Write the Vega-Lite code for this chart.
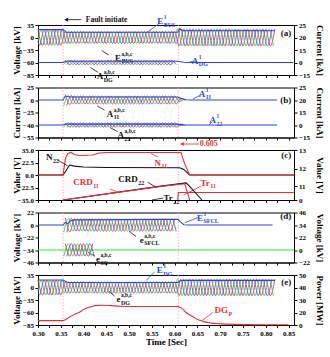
{
"$schema":"https://vega.github.io/schema/vega-lite/v6.json",
"padding":{"left":11,"top":14,"right":2,"bottom":4},
"bounds":"flush",
"spacing":12.5,
"config":{"font":"Liberation Serif","view":{"stroke":"#000","strokeWidth":1},
"axis":{"labelFont":"Liberation Serif","labelFontWeight":"bold","labelFontSize":7,"titleFont":"Liberation Serif","titleFontWeight":"bold","titleFontSize":9,"tickSize":3,"domainColor":"#000","tickColor":"#000","labelColor":"#000","titleColor":"#000","grid":false,"labelPadding":1.5},
"text":{"font":"Liberation Serif","fontWeight":"bold"}},
"datasets":{
"V":[{"t":0.355},{"t":0.608}],
"w":[
{"t":0.3,"p":"a","bus":22,"dg":21},{"t":0.31,"p":"a","bus":-22,"dg":-21},{"t":0.32,"p":"a","bus":22,"dg":21},{"t":0.33,"p":"a","bus":-22,"dg":-21},{"t":0.34,"p":"a","bus":22,"dg":21},{"t":0.35,"p":"a","bus":-22,"dg":-21},
{"t":0.36,"p":"a","bus":17,"dg":16,"sf":13,"a11":11,"a22":2.5,"adg":2.5,"sc":11},
{"t":0.37,"p":"a","bus":-17,"dg":-16,"sf":-12,"a11":-9,"a22":-2.5,"adg":-2.5,"sc":-11},
{"t":0.38,"p":"a","bus":17,"dg":16,"sf":11,"a11":8,"a22":2.5,"adg":2.5,"sc":11},
{"t":0.39,"p":"a","bus":-17,"dg":-16,"sf":-11,"a11":-8,"a22":-2.5,"adg":-2.5,"sc":-11},
{"t":0.4,"p":"a","bus":17,"dg":16,"sf":11,"a11":8,"a22":2.5,"adg":2.5,"sc":11},
{"t":0.41,"p":"a","bus":-17,"dg":-16,"sf":-11,"a11":-8,"a22":-2.5,"adg":-2.5,"sc":-11},
{"t":0.42,"p":"a","bus":17,"dg":16,"sf":11,"a11":8,"a22":2.5,"adg":2.5,"sc":11},
{"t":0.43,"p":"a","bus":-17,"dg":-16,"sf":-11,"a11":-8,"a22":-2.5,"adg":-2.5},
{"t":0.44,"p":"a","bus":17,"dg":16,"sf":11,"a11":8,"a22":2.5,"adg":2.5},
{"t":0.45,"p":"a","bus":-17,"dg":-16,"sf":-11,"a11":-8,"a22":-2.5,"adg":-2.5},
{"t":0.46,"p":"a","bus":17,"dg":16,"sf":11,"a11":8,"a22":2.5,"adg":2.5},
{"t":0.47,"p":"a","bus":-17,"dg":-16,"sf":-11,"a11":-8,"a22":-2.5,"adg":-2.5},
{"t":0.48,"p":"a","bus":17,"dg":16,"sf":11,"a11":8,"a22":2.5,"adg":2.5},
{"t":0.49,"p":"a","bus":-17,"dg":-16,"sf":-11,"a11":-8,"a22":-2.5,"adg":-2.5},
{"t":0.5,"p":"a","bus":17,"dg":16,"sf":11,"a11":8,"a22":2.5,"adg":2.5},
{"t":0.51,"p":"a","bus":-17,"dg":-16,"sf":-11,"a11":-8,"a22":-2.5,"adg":-2.5},
{"t":0.52,"p":"a","bus":17,"dg":16,"sf":11,"a11":8,"a22":2.5,"adg":2.5},
{"t":0.53,"p":"a","bus":-17,"dg":-16,"sf":-11,"a11":-8,"a22":-2.5,"adg":-2.5},
{"t":0.54,"p":"a","bus":17,"dg":16,"sf":11,"a11":8,"a22":2.5,"adg":2.5},
{"t":0.55,"p":"a","bus":-17,"dg":-16,"sf":-11,"a11":-8,"a22":-2.5,"adg":-2.5},
{"t":0.56,"p":"a","bus":17,"dg":16,"sf":11,"a11":8,"a22":2.5,"adg":2.5},
{"t":0.57,"p":"a","bus":-17,"dg":-16,"sf":-11,"a11":-8,"a22":-2.5,"adg":-2.5},
{"t":0.58,"p":"a","bus":17,"dg":16,"sf":11,"a11":8,"a22":2.5,"adg":2.5},
{"t":0.59,"p":"a","bus":-17,"dg":-16,"sf":-11,"a11":-8,"a22":-2.5,"adg":-2.5},
{"t":0.6,"p":"a","bus":17,"dg":16,"sf":11,"a11":8,"a22":2.5,"adg":2.5},
{"t":0.61,"p":"a","bus":-24,"dg":-23,"a11":-3,"a22":-1},
{"t":0.62,"p":"a","bus":24,"dg":23,"a11":1,"a22":0.3},
{"t":0.63,"p":"a","bus":-24,"dg":-23},{"t":0.64,"p":"a","bus":24,"dg":23},{"t":0.65,"p":"a","bus":-24,"dg":-23},{"t":0.66,"p":"a","bus":24,"dg":23},{"t":0.67,"p":"a","bus":-24,"dg":-23},{"t":0.68,"p":"a","bus":24,"dg":23},{"t":0.69,"p":"a","bus":-24,"dg":-23},{"t":0.7,"p":"a","bus":24,"dg":23},{"t":0.71,"p":"a","bus":-24,"dg":-23},{"t":0.72,"p":"a","bus":24,"dg":23},{"t":0.73,"p":"a","bus":-24,"dg":-23},{"t":0.74,"p":"a","bus":24,"dg":23},{"t":0.75,"p":"a","bus":-24,"dg":-23},{"t":0.76,"p":"a","bus":24,"dg":23},{"t":0.77,"p":"a","bus":-24,"dg":-23},{"t":0.78,"p":"a","bus":24,"dg":23},{"t":0.79,"p":"a","bus":-24,"dg":-23},{"t":0.8,"p":"a","bus":24,"dg":23},{"t":0.81,"p":"a","bus":-24,"dg":-23},{"t":0.82,"p":"a","bus":24,"dg":23},
{"t":0.3,"p":"b","bus":-11,"dg":-10.5},{"t":0.3067,"p":"b","bus":22,"dg":21},{"t":0.3167,"p":"b","bus":-22,"dg":-21},{"t":0.3267,"p":"b","bus":22,"dg":21},{"t":0.3367,"p":"b","bus":-22,"dg":-21},{"t":0.3467,"p":"b","bus":22,"dg":21},
{"t":0.3567,"p":"b","bus":-17,"dg":-16,"sf":-13,"a11":-11,"a22":-2.5,"adg":-2.5,"sc":-11},
{"t":0.3667,"p":"b","bus":17,"dg":16,"sf":12,"a11":9,"a22":2.5,"adg":2.5,"sc":11},
{"t":0.3767,"p":"b","bus":-17,"dg":-16,"sf":-11,"a11":-8,"a22":-2.5,"adg":-2.5,"sc":-11},
{"t":0.3867,"p":"b","bus":17,"dg":16,"sf":11,"a11":8,"a22":2.5,"adg":2.5,"sc":11},
{"t":0.3967,"p":"b","bus":-17,"dg":-16,"sf":-11,"a11":-8,"a22":-2.5,"adg":-2.5,"sc":-11},
{"t":0.4067,"p":"b","bus":17,"dg":16,"sf":11,"a11":8,"a22":2.5,"adg":2.5,"sc":11},
{"t":0.4167,"p":"b","bus":-17,"dg":-16,"sf":-11,"a11":-8,"a22":-2.5,"adg":-2.5,"sc":-11},
{"t":0.4267,"p":"b","bus":17,"dg":16,"sf":11,"a11":8,"a22":2.5,"adg":2.5},
{"t":0.4367,"p":"b","bus":-17,"dg":-16,"sf":-11,"a11":-8,"a22":-2.5,"adg":-2.5},
{"t":0.4467,"p":"b","bus":17,"dg":16,"sf":11,"a11":8,"a22":2.5,"adg":2.5},
{"t":0.4567,"p":"b","bus":-17,"dg":-16,"sf":-11,"a11":-8,"a22":-2.5,"adg":-2.5},
{"t":0.4667,"p":"b","bus":17,"dg":16,"sf":11,"a11":8,"a22":2.5,"adg":2.5},
{"t":0.4767,"p":"b","bus":-17,"dg":-16,"sf":-11,"a11":-8,"a22":-2.5,"adg":-2.5},
{"t":0.4867,"p":"b","bus":17,"dg":16,"sf":11,"a11":8,"a22":2.5,"adg":2.5},
{"t":0.4967,"p":"b","bus":-17,"dg":-16,"sf":-11,"a11":-8,"a22":-2.5,"adg":-2.5},
{"t":0.5067,"p":"b","bus":17,"dg":16,"sf":11,"a11":8,"a22":2.5,"adg":2.5},
{"t":0.5167,"p":"b","bus":-17,"dg":-16,"sf":-11,"a11":-8,"a22":-2.5,"adg":-2.5},
{"t":0.5267,"p":"b","bus":17,"dg":16,"sf":11,"a11":8,"a22":2.5,"adg":2.5},
{"t":0.5367,"p":"b","bus":-17,"dg":-16,"sf":-11,"a11":-8,"a22":-2.5,"adg":-2.5},
{"t":0.5467,"p":"b","bus":17,"dg":16,"sf":11,"a11":8,"a22":2.5,"adg":2.5},
{"t":0.5567,"p":"b","bus":-17,"dg":-16,"sf":-11,"a11":-8,"a22":-2.5,"adg":-2.5},
{"t":0.5667,"p":"b","bus":17,"dg":16,"sf":11,"a11":8,"a22":2.5,"adg":2.5},
{"t":0.5767,"p":"b","bus":-17,"dg":-16,"sf":-11,"a11":-8,"a22":-2.5,"adg":-2.5},
{"t":0.5867,"p":"b","bus":17,"dg":16,"sf":11,"a11":8,"a22":2.5,"adg":2.5},
{"t":0.5967,"p":"b","bus":-17,"dg":-16,"sf":-11,"a11":-8,"a22":-2.5,"adg":-2.5},
{"t":0.6067,"p":"b","bus":24,"dg":23,"a11":3,"a22":1},
{"t":0.6167,"p":"b","bus":-24,"dg":-23,"a11":-1,"a22":-0.3},
{"t":0.6267,"p":"b","bus":24,"dg":23},{"t":0.6367,"p":"b","bus":-24,"dg":-23},{"t":0.6467,"p":"b","bus":24,"dg":23},{"t":0.6567,"p":"b","bus":-24,"dg":-23},{"t":0.6667,"p":"b","bus":24,"dg":23},{"t":0.6767,"p":"b","bus":-24,"dg":-23},{"t":0.6867,"p":"b","bus":24,"dg":23},{"t":0.6967,"p":"b","bus":-24,"dg":-23},{"t":0.7067,"p":"b","bus":24,"dg":23},{"t":0.7167,"p":"b","bus":-24,"dg":-23},{"t":0.7267,"p":"b","bus":24,"dg":23},{"t":0.7367,"p":"b","bus":-24,"dg":-23},{"t":0.7467,"p":"b","bus":24,"dg":23},{"t":0.7567,"p":"b","bus":-24,"dg":-23},{"t":0.7667,"p":"b","bus":24,"dg":23},{"t":0.7767,"p":"b","bus":-24,"dg":-23},{"t":0.7867,"p":"b","bus":24,"dg":23},{"t":0.7967,"p":"b","bus":-24,"dg":-23},{"t":0.8067,"p":"b","bus":24,"dg":23},{"t":0.8167,"p":"b","bus":-24,"dg":-23},
{"t":0.3,"p":"c","bus":-11,"dg":-10.5},{"t":0.3033,"p":"c","bus":-22,"dg":-21},{"t":0.3133,"p":"c","bus":22,"dg":21},{"t":0.3233,"p":"c","bus":-22,"dg":-21},{"t":0.3333,"p":"c","bus":22,"dg":21},{"t":0.3433,"p":"c","bus":-22,"dg":-21},{"t":0.3533,"p":"c","bus":22,"dg":21},
{"t":0.3633,"p":"c","bus":-17,"dg":-16,"sf":-13,"a11":-11,"a22":-2.5,"adg":-2.5,"sc":-11},
{"t":0.3733,"p":"c","bus":17,"dg":16,"sf":12,"a11":9,"a22":2.5,"adg":2.5,"sc":11},
{"t":0.3833,"p":"c","bus":-17,"dg":-16,"sf":-11,"a11":-8,"a22":-2.5,"adg":-2.5,"sc":-11},
{"t":0.3933,"p":"c","bus":17,"dg":16,"sf":11,"a11":8,"a22":2.5,"adg":2.5,"sc":11},
{"t":0.4033,"p":"c","bus":-17,"dg":-16,"sf":-11,"a11":-8,"a22":-2.5,"adg":-2.5,"sc":-11},
{"t":0.4133,"p":"c","bus":17,"dg":16,"sf":11,"a11":8,"a22":2.5,"adg":2.5,"sc":11},
{"t":0.4233,"p":"c","bus":-17,"dg":-16,"sf":-11,"a11":-8,"a22":-2.5,"adg":-2.5,"sc":-11},
{"t":0.4333,"p":"c","bus":17,"dg":16,"sf":11,"a11":8,"a22":2.5,"adg":2.5},
{"t":0.4433,"p":"c","bus":-17,"dg":-16,"sf":-11,"a11":-8,"a22":-2.5,"adg":-2.5},
{"t":0.4533,"p":"c","bus":17,"dg":16,"sf":11,"a11":8,"a22":2.5,"adg":2.5},
{"t":0.4633,"p":"c","bus":-17,"dg":-16,"sf":-11,"a11":-8,"a22":-2.5,"adg":-2.5},
{"t":0.4733,"p":"c","bus":17,"dg":16,"sf":11,"a11":8,"a22":2.5,"adg":2.5},
{"t":0.4833,"p":"c","bus":-17,"dg":-16,"sf":-11,"a11":-8,"a22":-2.5,"adg":-2.5},
{"t":0.4933,"p":"c","bus":17,"dg":16,"sf":11,"a11":8,"a22":2.5,"adg":2.5},
{"t":0.5033,"p":"c","bus":-17,"dg":-16,"sf":-11,"a11":-8,"a22":-2.5,"adg":-2.5},
{"t":0.5133,"p":"c","bus":17,"dg":16,"sf":11,"a11":8,"a22":2.5,"adg":2.5},
{"t":0.5233,"p":"c","bus":-17,"dg":-16,"sf":-11,"a11":-8,"a22":-2.5,"adg":-2.5},
{"t":0.5333,"p":"c","bus":17,"dg":16,"sf":11,"a11":8,"a22":2.5,"adg":2.5},
{"t":0.5433,"p":"c","bus":-17,"dg":-16,"sf":-11,"a11":-8,"a22":-2.5,"adg":-2.5},
{"t":0.5533,"p":"c","bus":17,"dg":16,"sf":11,"a11":8,"a22":2.5,"adg":2.5},
{"t":0.5633,"p":"c","bus":-17,"dg":-16,"sf":-11,"a11":-8,"a22":-2.5,"adg":-2.5},
{"t":0.5733,"p":"c","bus":17,"dg":16,"sf":11,"a11":8,"a22":2.5,"adg":2.5},
{"t":0.5833,"p":"c","bus":-17,"dg":-16,"sf":-11,"a11":-8,"a22":-2.5,"adg":-2.5},
{"t":0.5933,"p":"c","bus":17,"dg":16,"sf":11,"a11":8,"a22":2.5,"adg":2.5},
{"t":0.6033,"p":"c","bus":-17,"dg":-16,"sf":-11,"a11":-8,"a22":-2.5,"adg":-2.5},
{"t":0.6133,"p":"c","bus":24,"dg":23,"a11":3,"a22":1},
{"t":0.6233,"p":"c","bus":-24,"dg":-23,"a11":-1,"a22":-0.3},
{"t":0.6333,"p":"c","bus":24,"dg":23},{"t":0.6433,"p":"c","bus":-24,"dg":-23},{"t":0.6533,"p":"c","bus":24,"dg":23},{"t":0.6633,"p":"c","bus":-24,"dg":-23},{"t":0.6733,"p":"c","bus":24,"dg":23},{"t":0.6833,"p":"c","bus":-24,"dg":-23},{"t":0.6933,"p":"c","bus":24,"dg":23},{"t":0.7033,"p":"c","bus":-24,"dg":-23},{"t":0.7133,"p":"c","bus":24,"dg":23},{"t":0.7233,"p":"c","bus":-24,"dg":-23},{"t":0.7333,"p":"c","bus":24,"dg":23},{"t":0.7433,"p":"c","bus":-24,"dg":-23},{"t":0.7533,"p":"c","bus":24,"dg":23},{"t":0.7633,"p":"c","bus":-24,"dg":-23},{"t":0.7733,"p":"c","bus":24,"dg":23},{"t":0.7833,"p":"c","bus":-24,"dg":-23},{"t":0.7933,"p":"c","bus":24,"dg":23},{"t":0.8033,"p":"c","bus":-24,"dg":-23},{"t":0.8133,"p":"c","bus":24,"dg":23}
],
"L":[
{"s":"E1BUS","g":"blue","t":0.3,"v":22},{"s":"E1BUS","g":"blue","t":0.355,"v":22},{"s":"E1BUS","g":"blue","t":0.362,"v":15},{"s":"E1BUS","g":"blue","t":0.607,"v":14.5},{"s":"E1BUS","g":"blue","t":0.611,"v":25},{"s":"E1BUS","g":"blue","t":0.618,"v":19},{"s":"E1BUS","g":"blue","t":0.82,"v":19},
{"s":"A1DG","g":"blue","t":0.3,"v":0},{"s":"A1DG","g":"blue","t":0.355,"v":0},{"s":"A1DG","g":"blue","t":0.36,"v":1.5},{"s":"A1DG","g":"blue","t":0.607,"v":1.5},{"s":"A1DG","g":"blue","t":0.62,"v":0.3},{"s":"A1DG","g":"blue","t":0.63,"v":0},{"s":"A1DG","g":"blue","t":0.86,"v":0},
{"s":"A111","g":"blue","t":0.3,"v":0},{"s":"A111","g":"blue","t":0.355,"v":0},{"s":"A111","g":"blue","t":0.36,"v":8},{"s":"A111","g":"blue","t":0.37,"v":6},{"s":"A111","g":"blue","t":0.607,"v":6},{"s":"A111","g":"blue","t":0.615,"v":3},{"s":"A111","g":"blue","t":0.625,"v":0.5},{"s":"A111","g":"blue","t":0.635,"v":0},{"s":"A111","g":"blue","t":0.825,"v":0},
{"s":"A122","g":"blue","t":0.3,"v":0},{"s":"A122","g":"blue","t":0.355,"v":0},{"s":"A122","g":"blue","t":0.36,"v":1},{"s":"A122","g":"blue","t":0.607,"v":1},{"s":"A122","g":"blue","t":0.62,"v":0},{"s":"A122","g":"blue","t":0.825,"v":0},
{"s":"N22","g":"black","t":0.3,"v":0},{"s":"N22","g":"black","t":0.355,"v":0},{"s":"N22","g":"black","t":0.362,"v":8},{"s":"N22","g":"black","t":0.369,"v":18},{"s":"N22","g":"black","t":0.38,"v":16},{"s":"N22","g":"black","t":0.4,"v":14.5},{"s":"N22","g":"black","t":0.45,"v":13.5},{"s":"N22","g":"black","t":0.611,"v":13},{"s":"N22","g":"black","t":0.62,"v":10},{"s":"N22","g":"black","t":0.633,"v":0},{"s":"N22","g":"black","t":0.862,"v":0},
{"s":"N11","g":"red","t":0.3,"v":0},{"s":"N11","g":"red","t":0.355,"v":0},{"s":"N11","g":"red","t":0.36,"v":26},{"s":"N11","g":"red","t":0.365,"v":31},{"s":"N11","g":"red","t":0.372,"v":32.8},{"s":"N11","g":"red","t":0.38,"v":30.5},{"s":"N11","g":"red","t":0.39,"v":29.5},{"s":"N11","g":"red","t":0.42,"v":30},{"s":"N11","g":"red","t":0.435,"v":32},{"s":"N11","g":"red","t":0.45,"v":32.5},{"s":"N11","g":"red","t":0.614,"v":32.5},{"s":"N11","g":"red","t":0.622,"v":20},{"s":"N11","g":"red","t":0.633,"v":0},{"s":"N11","g":"red","t":0.862,"v":0},
{"s":"Tr11","g":"red","t":0.607,"v":-35},{"s":"Tr11","g":"red","t":0.608,"v":-27.5},{"s":"Tr11","g":"red","t":0.862,"v":-27.5},
{"s":"CRD22","g":"black","t":0.355,"v":0},{"s":"CRD22","g":"black","t":0.566,"v":11},{"s":"CRD22","g":"black","t":0.625,"v":11.2},{"s":"CRD22","g":"black","t":0.633,"v":11},{"s":"CRD22","g":"black","t":0.66,"v":0},
{"s":"CRD11","g":"red","t":0.355,"v":0},{"s":"CRD11","g":"red","t":0.57,"v":11},{"s":"CRD11","g":"red","t":0.622,"v":11.15},{"s":"CRD11","g":"red","t":0.624,"v":11},{"s":"CRD11","g":"red","t":0.633,"v":0},
{"s":"E1SFCL","g":"blue","t":0.3,"v":0},{"s":"E1SFCL","g":"blue","t":0.355,"v":0},{"s":"E1SFCL","g":"blue","t":0.36,"v":5},{"s":"E1SFCL","g":"blue","t":0.365,"v":2},{"s":"E1SFCL","g":"blue","t":0.37,"v":7},{"s":"E1SFCL","g":"blue","t":0.38,"v":9},{"s":"E1SFCL","g":"blue","t":0.607,"v":10},{"s":"E1SFCL","g":"blue","t":0.612,"v":6},{"s":"E1SFCL","g":"blue","t":0.62,"v":0.5},{"s":"E1SFCL","g":"blue","t":0.63,"v":0},{"s":"E1SFCL","g":"blue","t":0.815,"v":0},
{"s":"eSC0","g":"green","t":0.3,"v":0},{"s":"eSC0","g":"green","t":0.862,"v":0},
{"s":"E1DG","g":"blue","t":0.3,"v":21},{"s":"E1DG","g":"blue","t":0.355,"v":21},{"s":"E1DG","g":"blue","t":0.365,"v":14},{"s":"E1DG","g":"blue","t":0.607,"v":14},{"s":"E1DG","g":"blue","t":0.615,"v":20},{"s":"E1DG","g":"blue","t":0.82,"v":20},
{"s":"DGP","g":"red","t":0.3,"v":7},{"s":"DGP","g":"red","t":0.355,"v":7},{"s":"DGP","g":"red","t":0.36,"v":8.5},{"s":"DGP","g":"red","t":0.37,"v":13},{"s":"DGP","g":"red","t":0.38,"v":17},{"s":"DGP","g":"red","t":0.39,"v":20},{"s":"DGP","g":"red","t":0.4,"v":22.5},{"s":"DGP","g":"red","t":0.41,"v":24},{"s":"DGP","g":"red","t":0.42,"v":25},{"s":"DGP","g":"red","t":0.43,"v":25.7},{"s":"DGP","g":"red","t":0.44,"v":25.8},{"s":"DGP","g":"red","t":0.46,"v":25.5},{"s":"DGP","g":"red","t":0.48,"v":25},{"s":"DGP","g":"red","t":0.5,"v":24.8},{"s":"DGP","g":"red","t":0.6,"v":24.8},{"s":"DGP","g":"red","t":0.607,"v":24.7},{"s":"DGP","g":"red","t":0.615,"v":23.5},{"s":"DGP","g":"red","t":0.625,"v":20},{"s":"DGP","g":"red","t":0.635,"v":15.5},{"s":"DGP","g":"red","t":0.645,"v":11},{"s":"DGP","g":"red","t":0.655,"v":7.5},{"s":"DGP","g":"red","t":0.665,"v":5},{"s":"DGP","g":"red","t":0.68,"v":3},{"s":"DGP","g":"red","t":0.7,"v":1.8},{"s":"DGP","g":"red","t":0.73,"v":1},{"s":"DGP","g":"red","t":0.8,"v":0.5},{"s":"DGP","g":"red","t":0.85,"v":0.4}
],
"T":[
{"pn":"a","t":0.575,"v":46,"m":"E","sp":"1","sb":"BUS","g":"blue"},
{"pn":"a","t":0.482,"v":-50,"m":"E","sp":"a,b,c","sb":"BUS","g":"black"},
{"pn":"a","t":0.652,"v":-56,"m":"A","sp":"1","sb":"DG","g":"blue"},
{"pn":"a","t":0.443,"v":-87,"m":"A","sp":"a,b,c","sb":"DG","g":"black"},
{"pn":"a","t":0.856,"v":14,"m":"(a)","sp":"","sb":"","g":"black"},
{"pn":"b","t":0.667,"v":13,"m":"A","sp":"1","sb":"11","g":"blue"},
{"pn":"b","t":0.465,"v":-26.5,"m":"A","sp":"a,b,c","sb":"11","g":"black"},
{"pn":"b","t":0.691,"v":-34.5,"m":"A","sp":"1","sb":"22","g":"blue"},
{"pn":"b","t":0.489,"v":-52,"m":"A","sp":"a,b,c","sb":"22","g":"black"},
{"pn":"b","t":0.856,"v":0,"m":"(b)","sp":"","sb":"","g":"black"},
{"pn":"c","t":0.332,"v":28,"m":"N","sp":"","sb":"22","g":"black"},
{"pn":"c","t":0.57,"v":22,"m":"N","sp":"","sb":"11","g":"red"},
{"pn":"c","t":0.42,"v":-13,"m":"CRD","sp":"","sb":"11","g":"red"},
{"pn":"c","t":0.519,"v":-8,"m":"CRD","sp":"","sb":"22","g":"black"},
{"pn":"c","t":0.677,"v":-14,"m":"Tr","sp":"","sb":"11","g":"red"},
{"pn":"c","t":0.596,"v":-33,"m":"Tr","sp":"","sb":"22","g":"black"},
{"pn":"c","t":0.856,"v":30,"m":"(c)","sp":"","sb":"","g":"black"},
{"pn":"d","t":0.662,"v":13,"m":"E","sp":"1","sb":"SFCL","g":"blue"},
{"pn":"d","t":0.532,"v":-24,"m":"e","sp":"a,b,c","sb":"SFCL","g":"black"},
{"pn":"d","t":0.436,"v":-43,"m":"e","sp":"a,b,c","sb":"SC","g":"black"},
{"pn":"d","t":0.856,"v":15,"m":"(d)","sp":"","sb":"","g":"black"},
{"pn":"e","t":0.574,"v":49,"m":"E","sp":"1","sb":"DG","g":"blue"},
{"pn":"e","t":0.481,"v":-33,"m":"e","sp":"a,b,c","sb":"DG","g":"black"},
{"pn":"e","t":0.717,"v":-55,"m":"DG","sp":"","sb":"P","g":"red"},
{"pn":"e","t":0.856,"v":16,"m":"(e)","sp":"","sb":"","g":"black"}
],
"R":[
{"pn":"a","t":0.565,"v":38,"t2":0.54,"v2":15,"g":"blue"},
{"pn":"a","t":0.455,"v":-45,"t2":0.44,"v2":-36,"g":"black"},
{"pn":"a","t":0.642,"v":-57,"t2":0.63,"v2":-60,"g":"blue"},
{"pn":"a","t":0.432,"v":-80,"t2":0.415,"v2":-70,"g":"black"},
{"pn":"a","t":0.362,"v":50,"t2":0.395,"v2":50,"g":"black"},
{"pn":"b","t":0.657,"v":10,"t2":0.64,"v2":2,"g":"blue"},
{"pn":"b","t":0.446,"v":-20,"t2":0.43,"v2":-12,"g":"black"},
{"pn":"b","t":0.683,"v":-36,"t2":0.675,"v2":-40,"g":"blue"},
{"pn":"b","t":0.475,"v":-48,"t2":0.458,"v2":-43,"g":"black"},
{"pn":"c","t":0.343,"v":25,"t2":0.365,"v2":16.6,"g":"black"},
{"pn":"c","t":0.563,"v":28,"t2":0.548,"v2":31.6,"g":"red"},
{"pn":"c","t":0.458,"v":-24,"t2":0.475,"v2":-27,"g":"red"},
{"pn":"c","t":0.541,"v":-13,"t2":0.558,"v2":-21.5,"g":"black"},
{"pn":"c","t":0.658,"v":-20,"t2":0.62,"v2":-30,"g":"red"},
{"pn":"c","t":0.575,"v":-33,"t2":0.55,"v2":-35,"g":"black"},
{"pn":"c","t":0.617,"v":41,"t2":0.653,"v2":41,"g":"red"},
{"pn":"d","t":0.651,"v":13,"t2":0.622,"v2":4,"g":"blue"},
{"pn":"d","t":0.515,"v":-20,"t2":0.5,"v2":-11,"g":"black"},
{"pn":"d","t":0.425,"v":-40,"t2":0.41,"v2":-36,"g":"black"},
{"pn":"e","t":0.556,"v":44,"t2":0.537,"v2":19,"g":"blue"},
{"pn":"e","t":0.468,"v":-24,"t2":0.455,"v2":-10,"g":"black"},
{"pn":"e","t":0.684,"v":-60,"t2":0.66,"v2":-76,"g":"red"}
],
"N":[{"pn":"a","t":0.405,"v":50,"m":"Fault initiate","g":"black"},{"pn":"c","t":0.655,"v":41,"m":"0.605","g":"red"}],
"H":[{"pn":"a","t":0.362,"v":50,"g":"black"},{"pn":"c","t":0.616,"v":41,"g":"red"}]
},
"vconcat":[
{"width":256,"height":50,
"encoding":{"x":{"field":"t","type":"quantitative","scale":{"domain":[0.3,0.862],"nice":false,"zero":false},"axis":{"values":[0.3,0.325,0.35,0.375,0.4,0.425,0.45,0.475,0.5,0.525,0.55,0.575,0.6,0.625,0.65,0.675,0.7,0.725,0.75,0.775,0.8,0.825,0.85],"labels":false,"title":null,"tickSize":2.5}}},
"layer":[
{"data":{"name":"V"},"mark":{"type":"rule","color":"#f2a0a0","strokeDash":[1.5,1.5],"strokeWidth":0.8}},
{"encoding":{"y":{"field":"v","type":"quantitative","scale":{"domain":[-85,-60,-35,0,35],"range":[50,37.5,25,12.5,0],"nice":false,"zero":false},"axis":{"values":[35,0,-35,-60,-85],"title":"Voltage [kV]","titleX":-17,"titleY":25,"titleAngle":270,"titleBaseline":"bottom","titleAlign":"center"}}},
"layer":[
{"data":{"name":"w"},"transform":[{"fold":["bus"],"as":["q","v"]},{"filter":"isValid(datum.v)"}],"mark":{"type":"line","interpolate":"monotone","strokeWidth":0.9},"encoding":{"color":{"field":"p","type":"nominal","scale":{"domain":["a","b","c","blue","red","black","green"],"range":["#e8353a","#3fcf3f","#5a5ae8","#2f45d8","#e3303a","#111111","#3ee03e"]},"legend":null}}},
{"data":{"name":"L"},"transform":[{"filter":{"field":"s","oneOf":["E1BUS"]}}],"mark":{"type":"line","strokeWidth":1.1},"encoding":{"detail":{"field":"s"},"color":{"field":"g","type":"nominal","scale":{"domain":["a","b","c","blue","red","black","green"],"range":["#e8353a","#3fcf3f","#5a5ae8","#2f45d8","#e3303a","#111111","#3ee03e"]},"legend":null}}},
{"data":{"name":"R"},"transform":[{"filter":"datum.pn==='a'"}],"mark":{"type":"rule","strokeWidth":0.8},"encoding":{"x2":{"field":"t2"},"y2":{"field":"v2"},"color":{"field":"g","type":"nominal","scale":{"domain":["a","b","c","blue","red","black","green"],"range":["#e8353a","#3fcf3f","#5a5ae8","#2f45d8","#e3303a","#111111","#3ee03e"]},"legend":null}}},
{"data":{"name":"H"},"transform":[{"filter":"datum.pn==='a'"}],"mark":{"type":"point","shape":"triangle-left","filled":true,"size":18,"opacity":1},"encoding":{"color":{"field":"g","type":"nominal","scale":{"domain":["a","b","c","blue","red","black","green"],"range":["#e8353a","#3fcf3f","#5a5ae8","#2f45d8","#e3303a","#111111","#3ee03e"]},"legend":null}}},
{"data":{"name":"N"},"transform":[{"filter":"datum.pn==='a'"}],"mark":{"type":"text","align":"left","baseline":"middle","fontSize":7.5},"encoding":{"text":{"field":"m"},"color":{"field":"g","type":"nominal","scale":{"domain":["a","b","c","blue","red","black","green"],"range":["#e8353a","#3fcf3f","#5a5ae8","#2f45d8","#e3303a","#111111","#3ee03e"]},"legend":null}}},
{"data":{"name":"T"},"transform":[{"filter":"datum.pn==='a'"}],"mark":{"type":"text","align":"right","baseline":"middle","fontSize":9},"encoding":{"text":{"field":"m"},"color":{"field":"g","type":"nominal","scale":{"domain":["a","b","c","blue","red","black","green"],"range":["#e8353a","#3fcf3f","#5a5ae8","#2f45d8","#e3303a","#111111","#3ee03e"]},"legend":null}}},
{"data":{"name":"T"},"transform":[{"filter":"datum.pn==='a'"}],"mark":{"type":"text","align":"left","baseline":"middle","fontSize":5.5,"dy":-4,"dx":0.5},"encoding":{"text":{"field":"sp"},"color":{"field":"g","type":"nominal","scale":{"domain":["a","b","c","blue","red","black","green"],"range":["#e8353a","#3fcf3f","#5a5ae8","#2f45d8","#e3303a","#111111","#3ee03e"]},"legend":null}}},
{"data":{"name":"T"},"transform":[{"filter":"datum.pn==='a'"}],"mark":{"type":"text","align":"left","baseline":"middle","fontSize":6,"dy":3.5,"dx":0.5},"encoding":{"text":{"field":"sb"},"color":{"field":"g","type":"nominal","scale":{"domain":["a","b","c","blue","red","black","green"],"range":["#e8353a","#3fcf3f","#5a5ae8","#2f45d8","#e3303a","#111111","#3ee03e"]},"legend":null}}}
]},
{"encoding":{"y":{"field":"v","type":"quantitative","scale":{"domain":[-15,0,15,20,25],"range":[50,37.5,25,12.5,0],"nice":false,"zero":false},"axis":{"orient":"right","values":[25,20,15,0,-15],"title":"Current [kA]","titleX":20,"titleY":25,"titleAngle":90,"titleBaseline":"bottom","titleAlign":"center"}}},
"layer":[
{"data":{"name":"w"},"transform":[{"fold":["adg"],"as":["q","v"]},{"filter":"isValid(datum.v)"}],"mark":{"type":"line","interpolate":"monotone","strokeWidth":0.9},"encoding":{"color":{"field":"p","type":"nominal","scale":{"domain":["a","b","c","blue","red","black","green"],"range":["#e8353a","#3fcf3f","#5a5ae8","#2f45d8","#e3303a","#111111","#3ee03e"]},"legend":null}}},
{"data":{"name":"L"},"transform":[{"filter":{"field":"s","oneOf":["A1DG"]}}],"mark":{"type":"line","strokeWidth":1.1},"encoding":{"detail":{"field":"s"},"color":{"field":"g","type":"nominal","scale":{"domain":["a","b","c","blue","red","black","green"],"range":["#e8353a","#3fcf3f","#5a5ae8","#2f45d8","#e3303a","#111111","#3ee03e"]},"legend":null}}}
]}
],
"resolve":{"scale":{"y":"independent"}}},

{"width":256,"height":50,
"encoding":{"x":{"field":"t","type":"quantitative","scale":{"domain":[0.3,0.862],"nice":false,"zero":false},"axis":{"values":[0.3,0.325,0.35,0.375,0.4,0.425,0.45,0.475,0.5,0.525,0.55,0.575,0.6,0.625,0.65,0.675,0.7,0.725,0.75,0.775,0.8,0.825,0.85],"labels":false,"title":null,"tickSize":2.5}}},
"layer":[
{"data":{"name":"V"},"mark":{"type":"rule","color":"#f2a0a0","strokeDash":[1.5,1.5],"strokeWidth":0.8}},
{"encoding":{"y":{"field":"v","type":"quantitative","scale":{"domain":[-55,-40,-25,0,25],"range":[50,37.5,25,12.5,0],"nice":false,"zero":false},"axis":{"values":[25,0,-25,-40,-55],"title":"Current [kA]","titleX":-17,"titleY":25,"titleAngle":270,"titleBaseline":"bottom","titleAlign":"center"}}},
"layer":[
{"data":{"name":"w"},"transform":[{"fold":["a11"],"as":["q","v"]},{"filter":"isValid(datum.v)"}],"mark":{"type":"line","interpolate":"monotone","strokeWidth":0.9},"encoding":{"color":{"field":"p","type":"nominal","scale":{"domain":["a","b","c","blue","red","black","green"],"range":["#e8353a","#3fcf3f","#5a5ae8","#2f45d8","#e3303a","#111111","#3ee03e"]},"legend":null}}},
{"data":{"name":"L"},"transform":[{"filter":{"field":"s","oneOf":["A111"]}}],"mark":{"type":"line","strokeWidth":1.1},"encoding":{"detail":{"field":"s"},"color":{"field":"g","type":"nominal","scale":{"domain":["a","b","c","blue","red","black","green"],"range":["#e8353a","#3fcf3f","#5a5ae8","#2f45d8","#e3303a","#111111","#3ee03e"]},"legend":null}}},
{"data":{"name":"R"},"transform":[{"filter":"datum.pn==='b'"}],"mark":{"type":"rule","strokeWidth":0.8},"encoding":{"x2":{"field":"t2"},"y2":{"field":"v2"},"color":{"field":"g","type":"nominal","scale":{"domain":["a","b","c","blue","red","black","green"],"range":["#e8353a","#3fcf3f","#5a5ae8","#2f45d8","#e3303a","#111111","#3ee03e"]},"legend":null}}},
{"data":{"name":"T"},"transform":[{"filter":"datum.pn==='b'"}],"mark":{"type":"text","align":"right","baseline":"middle","fontSize":9},"encoding":{"text":{"field":"m"},"color":{"field":"g","type":"nominal","scale":{"domain":["a","b","c","blue","red","black","green"],"range":["#e8353a","#3fcf3f","#5a5ae8","#2f45d8","#e3303a","#111111","#3ee03e"]},"legend":null}}},
{"data":{"name":"T"},"transform":[{"filter":"datum.pn==='b'"}],"mark":{"type":"text","align":"left","baseline":"middle","fontSize":5.5,"dy":-4,"dx":0.5},"encoding":{"text":{"field":"sp"},"color":{"field":"g","type":"nominal","scale":{"domain":["a","b","c","blue","red","black","green"],"range":["#e8353a","#3fcf3f","#5a5ae8","#2f45d8","#e3303a","#111111","#3ee03e"]},"legend":null}}},
{"data":{"name":"T"},"transform":[{"filter":"datum.pn==='b'"}],"mark":{"type":"text","align":"left","baseline":"middle","fontSize":6,"dy":3.5,"dx":0.5},"encoding":{"text":{"field":"sb"},"color":{"field":"g","type":"nominal","scale":{"domain":["a","b","c","blue","red","black","green"],"range":["#e8353a","#3fcf3f","#5a5ae8","#2f45d8","#e3303a","#111111","#3ee03e"]},"legend":null}}}
]},
{"encoding":{"y":{"field":"v","type":"quantitative","scale":{"domain":[-15,0,15,20,25],"range":[50,37.5,25,12.5,0],"nice":false,"zero":false},"axis":{"orient":"right","values":[25,20,15,0,-15],"title":"Current [kA]","titleX":20,"titleY":25,"titleAngle":90,"titleBaseline":"bottom","titleAlign":"center"}}},
"layer":[
{"data":{"name":"w"},"transform":[{"fold":["a22"],"as":["q","v"]},{"filter":"isValid(datum.v)"}],"mark":{"type":"line","interpolate":"monotone","strokeWidth":0.9},"encoding":{"color":{"field":"p","type":"nominal","scale":{"domain":["a","b","c","blue","red","black","green"],"range":["#e8353a","#3fcf3f","#5a5ae8","#2f45d8","#e3303a","#111111","#3ee03e"]},"legend":null}}},
{"data":{"name":"L"},"transform":[{"filter":{"field":"s","oneOf":["A122"]}}],"mark":{"type":"line","strokeWidth":1.1},"encoding":{"detail":{"field":"s"},"color":{"field":"g","type":"nominal","scale":{"domain":["a","b","c","blue","red","black","green"],"range":["#e8353a","#3fcf3f","#5a5ae8","#2f45d8","#e3303a","#111111","#3ee03e"]},"legend":null}}}
]}
],
"resolve":{"scale":{"y":"independent"}}},

{"width":256,"height":50,
"encoding":{"x":{"field":"t","type":"quantitative","scale":{"domain":[0.3,0.862],"nice":false,"zero":false},"axis":{"values":[0.3,0.325,0.35,0.375,0.4,0.425,0.45,0.475,0.5,0.525,0.55,0.575,0.6,0.625,0.65,0.675,0.7,0.725,0.75,0.775,0.8,0.825,0.85],"labels":false,"title":null,"tickSize":2.5}}},
"layer":[
{"data":{"name":"V"},"mark":{"type":"rule","color":"#f2a0a0","strokeDash":[1.5,1.5],"strokeWidth":0.8}},
{"encoding":{"y":{"field":"v","type":"quantitative","scale":{"domain":[-35,-22.5,0,22.5,35],"range":[50,37.5,25,12.5,0],"nice":false,"zero":false},"axis":{"values":[35,22.5,0,-22.5,-35],"format":".1f","title":"Value [V]","titleX":-17,"titleY":25,"titleAngle":270,"titleBaseline":"bottom","titleAlign":"center"}}},
"layer":[
{"data":{"name":"L"},"transform":[{"filter":{"field":"s","oneOf":["N22","N11","Tr11"]}}],"mark":{"type":"line","strokeWidth":1.1},"encoding":{"detail":{"field":"s"},"color":{"field":"g","type":"nominal","scale":{"domain":["a","b","c","blue","red","black","green"],"range":["#e8353a","#3fcf3f","#5a5ae8","#2f45d8","#e3303a","#111111","#3ee03e"]},"legend":null}}},
{"data":{"name":"R"},"transform":[{"filter":"datum.pn==='c'"}],"mark":{"type":"rule","strokeWidth":0.8},"encoding":{"x2":{"field":"t2"},"y2":{"field":"v2"},"color":{"field":"g","type":"nominal","scale":{"domain":["a","b","c","blue","red","black","green"],"range":["#e8353a","#3fcf3f","#5a5ae8","#2f45d8","#e3303a","#111111","#3ee03e"]},"legend":null}}},
{"data":{"name":"H"},"transform":[{"filter":"datum.pn==='c'"}],"mark":{"type":"point","shape":"triangle-left","filled":true,"size":18,"opacity":1},"encoding":{"color":{"field":"g","type":"nominal","scale":{"domain":["a","b","c","blue","red","black","green"],"range":["#e8353a","#3fcf3f","#5a5ae8","#2f45d8","#e3303a","#111111","#3ee03e"]},"legend":null}}},
{"data":{"name":"N"},"transform":[{"filter":"datum.pn==='c'"}],"mark":{"type":"text","align":"left","baseline":"middle","fontSize":8},"encoding":{"text":{"field":"m"},"color":{"field":"g","type":"nominal","scale":{"domain":["a","b","c","blue","red","black","green"],"range":["#e8353a","#3fcf3f","#5a5ae8","#2f45d8","#e3303a","#111111","#3ee03e"]},"legend":null}}},
{"data":{"name":"T"},"transform":[{"filter":"datum.pn==='c'"}],"mark":{"type":"text","align":"right","baseline":"middle","fontSize":9},"encoding":{"text":{"field":"m"},"color":{"field":"g","type":"nominal","scale":{"domain":["a","b","c","blue","red","black","green"],"range":["#e8353a","#3fcf3f","#5a5ae8","#2f45d8","#e3303a","#111111","#3ee03e"]},"legend":null}}},
{"data":{"name":"T"},"transform":[{"filter":"datum.pn==='c'"}],"mark":{"type":"text","align":"left","baseline":"middle","fontSize":6,"dy":3.5,"dx":0.5},"encoding":{"text":{"field":"sb"},"color":{"field":"g","type":"nominal","scale":{"domain":["a","b","c","blue","red","black","green"],"range":["#e8353a","#3fcf3f","#5a5ae8","#2f45d8","#e3303a","#111111","#3ee03e"]},"legend":null}}}
]},
{"encoding":{"y":{"field":"v","type":"quantitative","scale":{"domain":[0,11,12,13],"range":[50,36.4,18.7,0],"nice":false,"zero":false},"axis":{"orient":"right","values":[13,12,11,0],"title":"Value [V]","titleX":20,"titleY":25,"titleAngle":90,"titleBaseline":"bottom","titleAlign":"center"}}},
"layer":[
{"data":{"name":"L"},"transform":[{"filter":{"field":"s","oneOf":["CRD22","CRD11"]}}],"mark":{"type":"line","strokeWidth":1.1},"encoding":{"detail":{"field":"s"},"color":{"field":"g","type":"nominal","scale":{"domain":["a","b","c","blue","red","black","green"],"range":["#e8353a","#3fcf3f","#5a5ae8","#2f45d8","#e3303a","#111111","#3ee03e"]},"legend":null}}}
]}
],
"resolve":{"scale":{"y":"independent"}}},

{"width":256,"height":50,
"encoding":{"x":{"field":"t","type":"quantitative","scale":{"domain":[0.3,0.862],"nice":false,"zero":false},"axis":{"values":[0.3,0.325,0.35,0.375,0.4,0.425,0.45,0.475,0.5,0.525,0.55,0.575,0.6,0.625,0.65,0.675,0.7,0.725,0.75,0.775,0.8,0.825,0.85],"labels":false,"title":null,"tickSize":2.5}}},
"layer":[
{"data":{"name":"V"},"mark":{"type":"rule","color":"#f2a0a0","strokeDash":[1.5,1.5],"strokeWidth":0.8}},
{"encoding":{"y":{"field":"v","type":"quantitative","scale":{"domain":[-46,-34,-22,0,22],"range":[50,37.5,25,12.5,0],"nice":false,"zero":false},"axis":{"values":[22,0,-22,-34,-46],"title":"Voltage [kV]","titleX":-17,"titleY":25,"titleAngle":270,"titleBaseline":"bottom","titleAlign":"center"}}},
"layer":[
{"data":{"name":"w"},"transform":[{"fold":["sf"],"as":["q","v"]},{"filter":"isValid(datum.v)"}],"mark":{"type":"line","interpolate":"monotone","strokeWidth":0.9},"encoding":{"color":{"field":"p","type":"nominal","scale":{"domain":["a","b","c","blue","red","black","green"],"range":["#e8353a","#3fcf3f","#5a5ae8","#2f45d8","#e3303a","#111111","#3ee03e"]},"legend":null}}},
{"data":{"name":"L"},"transform":[{"filter":{"field":"s","oneOf":["E1SFCL"]}}],"mark":{"type":"line","strokeWidth":1.1},"encoding":{"detail":{"field":"s"},"color":{"field":"g","type":"nominal","scale":{"domain":["a","b","c","blue","red","black","green"],"range":["#e8353a","#3fcf3f","#5a5ae8","#2f45d8","#e3303a","#111111","#3ee03e"]},"legend":null}}},
{"data":{"name":"R"},"transform":[{"filter":"datum.pn==='d'"}],"mark":{"type":"rule","strokeWidth":0.8},"encoding":{"x2":{"field":"t2"},"y2":{"field":"v2"},"color":{"field":"g","type":"nominal","scale":{"domain":["a","b","c","blue","red","black","green"],"range":["#e8353a","#3fcf3f","#5a5ae8","#2f45d8","#e3303a","#111111","#3ee03e"]},"legend":null}}},
{"data":{"name":"T"},"transform":[{"filter":"datum.pn==='d'"}],"mark":{"type":"text","align":"right","baseline":"middle","fontSize":9},"encoding":{"text":{"field":"m"},"color":{"field":"g","type":"nominal","scale":{"domain":["a","b","c","blue","red","black","green"],"range":["#e8353a","#3fcf3f","#5a5ae8","#2f45d8","#e3303a","#111111","#3ee03e"]},"legend":null}}},
{"data":{"name":"T"},"transform":[{"filter":"datum.pn==='d'"}],"mark":{"type":"text","align":"left","baseline":"middle","fontSize":5.5,"dy":-4,"dx":0.5},"encoding":{"text":{"field":"sp"},"color":{"field":"g","type":"nominal","scale":{"domain":["a","b","c","blue","red","black","green"],"range":["#e8353a","#3fcf3f","#5a5ae8","#2f45d8","#e3303a","#111111","#3ee03e"]},"legend":null}}},
{"data":{"name":"T"},"transform":[{"filter":"datum.pn==='d'"}],"mark":{"type":"text","align":"left","baseline":"middle","fontSize":6,"dy":3.5,"dx":0.5},"encoding":{"text":{"field":"sb"},"color":{"field":"g","type":"nominal","scale":{"domain":["a","b","c","blue","red","black","green"],"range":["#e8353a","#3fcf3f","#5a5ae8","#2f45d8","#e3303a","#111111","#3ee03e"]},"legend":null}}}
]},
{"encoding":{"y":{"field":"v","type":"quantitative","scale":{"domain":[-22,0,22,34,46],"range":[50,37.5,25,12.5,0],"nice":false,"zero":false},"axis":{"orient":"right","values":[46,34,22,0,-22],"title":"Voltage [kV]","titleX":20,"titleY":25,"titleAngle":90,"titleBaseline":"bottom","titleAlign":"center"}}},
"layer":[
{"data":{"name":"L"},"transform":[{"filter":{"field":"s","oneOf":["eSC0"]}}],"mark":{"type":"line","strokeWidth":1.1},"encoding":{"detail":{"field":"s"},"color":{"field":"g","type":"nominal","scale":{"domain":["a","b","c","blue","red","black","green"],"range":["#e8353a","#3fcf3f","#5a5ae8","#2f45d8","#e3303a","#111111","#3ee03e"]},"legend":null}}},
{"data":{"name":"w"},"transform":[{"fold":["sc"],"as":["q","v"]},{"filter":"isValid(datum.v)"}],"mark":{"type":"line","interpolate":"monotone","strokeWidth":0.9},"encoding":{"color":{"field":"p","type":"nominal","scale":{"domain":["a","b","c","blue","red","black","green"],"range":["#e8353a","#3fcf3f","#5a5ae8","#2f45d8","#e3303a","#111111","#3ee03e"]},"legend":null}}}
]}
],
"resolve":{"scale":{"y":"independent"}}},

{"width":256,"height":50,
"encoding":{"x":{"field":"t","type":"quantitative","scale":{"domain":[0.3,0.862],"nice":false,"zero":false},"axis":{"values":[0.3,0.325,0.35,0.375,0.4,0.425,0.45,0.475,0.5,0.525,0.55,0.575,0.6,0.625,0.65,0.675,0.7,0.725,0.75,0.775,0.8,0.825,0.85],"labelExpr":"(round(datum.value*1000) % 50 == 0) ? format(datum.value, '.2f') : ''","labelOverlap":false,"labelFlush":false,"title":"Time [Sec]","titlePadding":1,"tickSize":2.5}}},
"layer":[
{"data":{"name":"V"},"mark":{"type":"rule","color":"#f2a0a0","strokeDash":[1.5,1.5],"strokeWidth":0.8}},
{"encoding":{"y":{"field":"v","type":"quantitative","scale":{"domain":[-85,-60,-35,0,35],"range":[50,37.5,25,12.5,0],"nice":false,"zero":false},"axis":{"values":[35,0,-35,-60,-85],"title":"Voltage [kV]","titleX":-17,"titleY":25,"titleAngle":270,"titleBaseline":"bottom","titleAlign":"center"}}},
"layer":[
{"data":{"name":"w"},"transform":[{"fold":["dg"],"as":["q","v"]},{"filter":"isValid(datum.v)"}],"mark":{"type":"line","interpolate":"monotone","strokeWidth":0.9},"encoding":{"color":{"field":"p","type":"nominal","scale":{"domain":["a","b","c","blue","red","black","green"],"range":["#e8353a","#3fcf3f","#5a5ae8","#2f45d8","#e3303a","#111111","#3ee03e"]},"legend":null}}},
{"data":{"name":"L"},"transform":[{"filter":{"field":"s","oneOf":["E1DG"]}}],"mark":{"type":"line","strokeWidth":1.1},"encoding":{"detail":{"field":"s"},"color":{"field":"g","type":"nominal","scale":{"domain":["a","b","c","blue","red","black","green"],"range":["#e8353a","#3fcf3f","#5a5ae8","#2f45d8","#e3303a","#111111","#3ee03e"]},"legend":null}}},
{"data":{"name":"R"},"transform":[{"filter":"datum.pn==='e'"}],"mark":{"type":"rule","strokeWidth":0.8},"encoding":{"x2":{"field":"t2"},"y2":{"field":"v2"},"color":{"field":"g","type":"nominal","scale":{"domain":["a","b","c","blue","red","black","green"],"range":["#e8353a","#3fcf3f","#5a5ae8","#2f45d8","#e3303a","#111111","#3ee03e"]},"legend":null}}},
{"data":{"name":"T"},"transform":[{"filter":"datum.pn==='e'"}],"mark":{"type":"text","align":"right","baseline":"middle","fontSize":9},"encoding":{"text":{"field":"m"},"color":{"field":"g","type":"nominal","scale":{"domain":["a","b","c","blue","red","black","green"],"range":["#e8353a","#3fcf3f","#5a5ae8","#2f45d8","#e3303a","#111111","#3ee03e"]},"legend":null}}},
{"data":{"name":"T"},"transform":[{"filter":"datum.pn==='e'"}],"mark":{"type":"text","align":"left","baseline":"middle","fontSize":5.5,"dy":-4,"dx":0.5},"encoding":{"text":{"field":"sp"},"color":{"field":"g","type":"nominal","scale":{"domain":["a","b","c","blue","red","black","green"],"range":["#e8353a","#3fcf3f","#5a5ae8","#2f45d8","#e3303a","#111111","#3ee03e"]},"legend":null}}},
{"data":{"name":"T"},"transform":[{"filter":"datum.pn==='e'"}],"mark":{"type":"text","align":"left","baseline":"middle","fontSize":6,"dy":3.5,"dx":0.5},"encoding":{"text":{"field":"sb"},"color":{"field":"g","type":"nominal","scale":{"domain":["a","b","c","blue","red","black","green"],"range":["#e8353a","#3fcf3f","#5a5ae8","#2f45d8","#e3303a","#111111","#3ee03e"]},"legend":null}}}
]},
{"encoding":{"y":{"field":"v","type":"quantitative","scale":{"domain":[0,20,30,40,50],"range":[50,37.5,25,12.5,0],"nice":false,"zero":false},"axis":{"orient":"right","values":[50,40,30,20,0],"title":"Power [MW]","titleX":20,"titleY":25,"titleAngle":90,"titleBaseline":"bottom","titleAlign":"center"}}},
"layer":[
{"data":{"name":"L"},"transform":[{"filter":{"field":"s","oneOf":["DGP"]}}],"mark":{"type":"line","strokeWidth":1.1,"interpolate":"monotone"},"encoding":{"detail":{"field":"s"},"color":{"field":"g","type":"nominal","scale":{"domain":["a","b","c","blue","red","black","green"],"range":["#e8353a","#3fcf3f","#5a5ae8","#2f45d8","#e3303a","#111111","#3ee03e"]},"legend":null}}}
]}
],
"resolve":{"scale":{"y":"independent"}}}
]
}
